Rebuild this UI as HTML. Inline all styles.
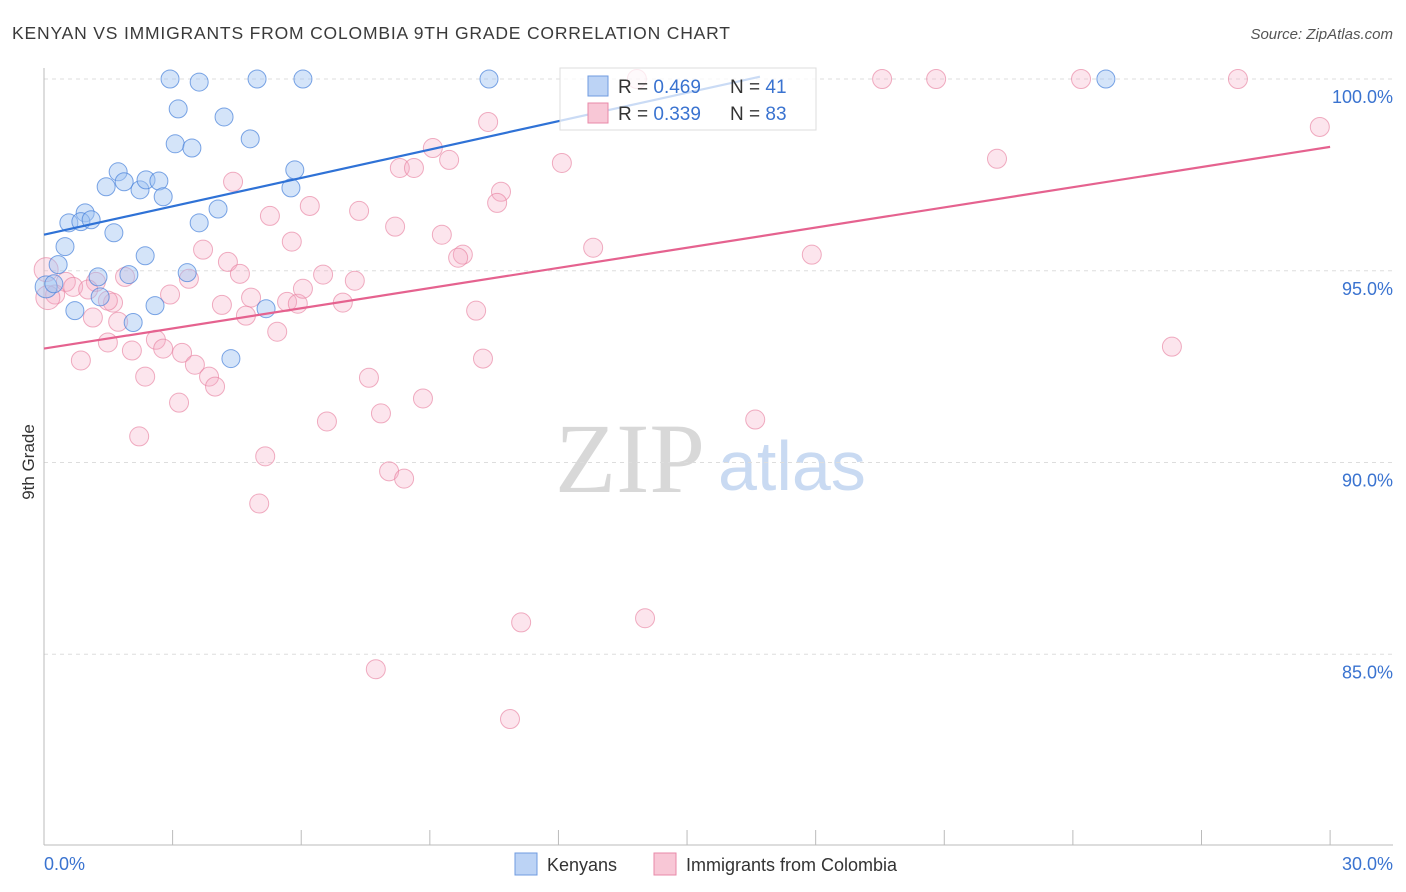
<!DOCTYPE html>
<html><head><meta charset="utf-8"><style>
body{margin:0;background:#fff;font-family:"Liberation Sans",sans-serif;}
#c{position:relative;width:1406px;height:892px;overflow:hidden}
</style></head><body>
<div id="c">
<svg id="s" width="1406" height="892" xmlns="http://www.w3.org/2000/svg">
<text x="12" y="39" font-size="17.5" fill="#3a3a3a" textLength="718" lengthAdjust="spacing">KENYAN VS IMMIGRANTS FROM COLOMBIA 9TH GRADE CORRELATION CHART</text>
<text x="1393" y="39" font-size="15" fill="#555" font-style="italic" text-anchor="end">Source: ZipAtlas.com</text>
<text x="34" y="462" font-size="17" fill="#333" text-anchor="middle" transform="rotate(-90 34 462)">9th Grade</text>
<text x="555" y="492" font-size="100" fill="#d8d8d8" font-family="Liberation Serif,serif">ZIP</text>
<text x="718" y="490" font-size="70" fill="#c9daf2">atlas</text>
<g id="grid"></g><g id="axes"></g><g id="pts"></g><g id="trend"></g>
<g>
<rect x="560" y="68" width="256" height="62" fill="rgba(255,255,255,0.75)" stroke="#ddd"/>
<rect x="588" y="76" width="20" height="20" fill="#bcd3f5" stroke="#6f9be0"/>
<rect x="588" y="103" width="20" height="20" fill="#f8c7d6" stroke="#e88aa8"/>
<text x="618" y="93" font-size="19" fill="#333">R = <tspan fill="#3a73d0">0.469</tspan><tspan x="730">N = </tspan><tspan fill="#3a73d0">41</tspan></text>
<text x="618" y="120" font-size="19" fill="#333">R = <tspan fill="#3a73d0">0.339</tspan><tspan x="730">N = </tspan><tspan fill="#3a73d0">83</tspan></text>
</g>
<g>
<rect x="515" y="853" width="22" height="22" fill="#bcd3f5" stroke="#6f9be0"/>
<text x="547" y="871" font-size="18" fill="#333">Kenyans</text>
<rect x="654" y="853" width="22" height="22" fill="#f8c7d6" stroke="#e88aa8"/>
<text x="686" y="871" font-size="18" fill="#333">Immigrants from Colombia</text>
</g>
</svg>
</div>
<script>
const yTicks=[100,95,90,85];
const yTickLabels=["100.0%","95.0%","90.0%","85.0%"];
const xTickLabels=["0.0%","30.0%"];
const blueX=[2.94,3.62,4.97,6.04,10.38,24.77,3.13,4.20,4.81,3.06,3.45,1.73,1.87,1.45,2.24,2.38,2.68,2.78,5.85,5.76,4.06,0.96,0.58,0.86,1.10,3.62,1.63,0.49,2.36,0.33,3.34,1.26,1.98,2.59,1.31,0.05,0.23,0.72,2.08,5.18,4.36];
const blueY=[100,99.92,100,100,100,100,99.22,99.01,98.44,98.31,98.20,97.58,97.32,97.19,97.11,97.37,97.34,96.93,97.63,97.16,96.61,96.51,96.25,96.28,96.33,96.25,95.99,95.63,95.39,95.16,94.95,94.84,94.90,94.09,94.32,94.58,94.66,93.96,93.65,94.01,92.71];
const pinkX=[13.83,19.55,20.81,24.19,27.85,29.76,10.36,9.07,9.45,12.08,8.30,8.63,22.23,4.41,10.66,10.57,6.20,5.27,7.35,8.19,9.28,5.78,3.71,12.81,9.77,9.66,17.91,4.29,4.57,6.51,7.25,3.38,1.89,0.51,0.68,1.21,1.03,1.61,1.49,0.26,0.09,0.05,4.83,5.67,5.92,6.04,6.97,2.94,4.15,1.14,1.73,4.71,10.08,5.44,2.61,1.49,2.05,3.22,2.78,3.52,0.86,10.24,26.31,2.36,3.85,3.99,7.58,3.15,8.84,7.86,6.60,16.59,2.22,5.16,8.05,8.40,5.02,11.13,14.02,7.74,10.87];
const pinkY=[100,100,100,100,100,98.75,98.88,98.20,97.89,97.81,97.68,97.68,97.92,97.32,97.06,96.77,96.69,96.43,96.56,96.15,95.94,95.76,95.55,95.60,95.42,95.34,95.42,95.23,94.92,94.90,94.74,94.79,94.84,94.71,94.58,94.71,94.51,94.17,94.22,94.38,94.30,95.03,94.30,94.19,94.14,94.53,94.17,94.38,94.11,93.78,93.67,93.83,93.96,93.41,93.20,93.13,92.92,92.86,92.97,92.55,92.66,92.71,93.02,92.24,92.24,91.98,92.21,91.56,91.67,91.28,91.07,91.12,90.68,90.16,89.77,89.58,88.93,85.83,85.94,84.61,83.31];
const blueTrend=[[0,95.94],[16.7,100.06]];
const pinkTrend=[[0,92.97],[30,98.23]];
const NS="http://www.w3.org/2000/svg";
const xs=v=>44+v*42.87, ys=v=>79+(100-v)*38.35;
function mk(tag,attrs,parent){const e=document.createElementNS(NS,tag);for(const k in attrs)e.setAttribute(k,attrs[k]);document.getElementById(parent).appendChild(e);return e;}
yTicks.forEach((t,i)=>{
 const g=mk('line',{x1:44,x2:1393,y1:ys(t),y2:ys(t),stroke:'#ddd','stroke-dasharray':'4 4'},'grid');
 
 
 const l=mk('text',{x:1393,y:ys(t)+24,'font-size':18,fill:'#3a73d0','text-anchor':'end'},'grid');
 l.textContent=yTickLabels[i];
 
 
});
const ya=mk('line',{x1:44,x2:44,y1:68,y2:845,stroke:'#bbb'},'axes');


const xa=mk('line',{x1:44,x2:1393,y1:845,y2:845,stroke:'#bbb'},'axes');


for(let i=0;i<=10;i++){const t=mk('line',{x1:xs(i*3),x2:xs(i*3),y1:830,y2:845,stroke:'#bbb'},'axes');
 
 }
[[0,'start'],[30,'end']].forEach((p,i)=>{const t=mk('text',{x:i?1393:44,y:870,'font-size':18,fill:'#3a73d0','text-anchor':p[1]},'axes');t.textContent=xTickLabels[i];
 
 });
pinkX.forEach((x,i)=>{const r=(x<0.2)?12:9.5;const c=mk('circle',{cx:xs(x),cy:ys(pinkY[i]),r:r,fill:'rgba(244,170,195,0.3)',stroke:'rgba(232,130,162,0.65)','stroke-width':1},'pts');
 
 });
blueX.forEach((x,i)=>{const c=mk('circle',{cx:xs(x),cy:ys(blueY[i]),r:(x<0.1)?11:9,fill:'rgba(160,195,242,0.45)',stroke:'rgba(70,128,218,0.7)','stroke-width':1},'pts');
 
 });
const bt=mk('line',{x1:xs(blueTrend[0][0]),y1:ys(blueTrend[0][1]),x2:xs(blueTrend[1][0]),y2:ys(blueTrend[1][1]),stroke:'#2f72d6','stroke-width':2.2},'trend');


const pt=mk('line',{x1:xs(pinkTrend[0][0]),y1:ys(pinkTrend[0][1]),x2:xs(pinkTrend[1][0]),y2:ys(pinkTrend[1][1]),stroke:'#e5628f','stroke-width':2.2},'trend');


</script>
</body></html>
